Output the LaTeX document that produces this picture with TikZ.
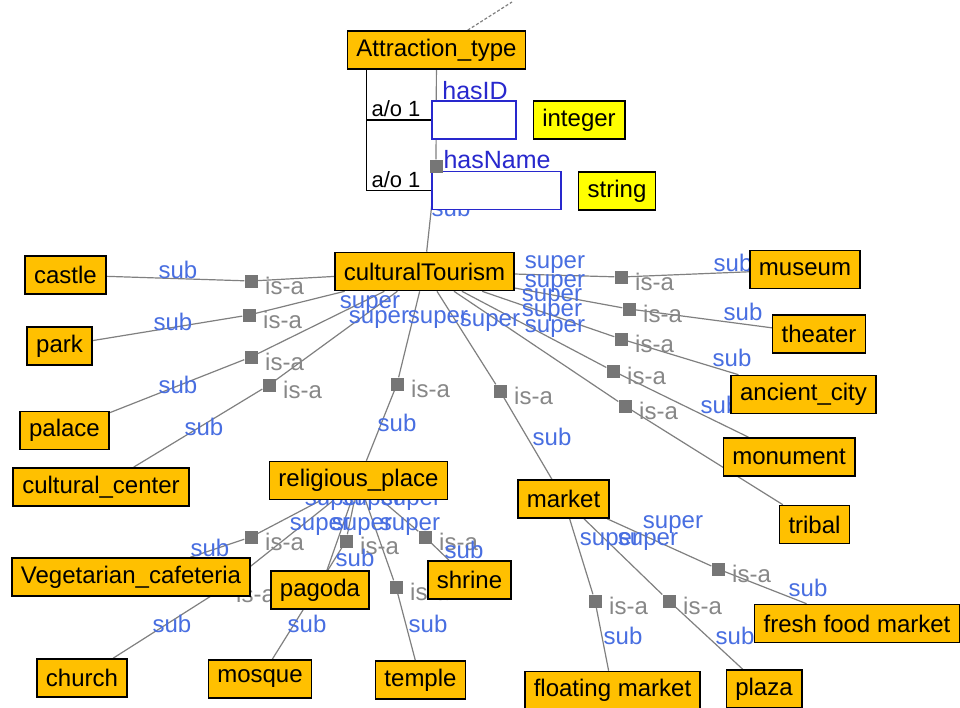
\documentclass[tikz,border=0pt]{standalone}
\usepackage{fontspec}
\setmainfont{Liberation Sans}
\usetikzlibrary{calc}
\definecolor{clsfill}{RGB}{255,192,0}
\definecolor{dtfill}{RGB}{255,255,0}
\definecolor{edgegray}{RGB}{128,128,128}
\definecolor{sqgray}{RGB}{118,118,118}
\definecolor{isagray}{RGB}{135,135,135}
\definecolor{roleblue}{RGB}{72,110,225}
\definecolor{propblue}{RGB}{40,40,205}
\pgfdeclarelayer{bgpaper}
\pgfdeclarelayer{edges}
\pgfsetlayers{bgpaper,edges,main}
\begin{document}
\begin{tikzpicture}[x=1pt,y=-1pt,
  font=\fontsize{24}{28}\selectfont,
  cls/.style={draw=black, line width=1.6pt, fill=clsfill, minimum height=38pt, inner xsep=9pt, inner ysep=0pt, text=black},
  dtype/.style={draw=black, line width=1.6pt, fill=dtfill, minimum height=38pt, inner xsep=9pt, inner ysep=0pt, text=black},
  prop/.style={draw=propblue, line width=1.5pt, fill=white, minimum height=38pt, inner sep=0pt},
  isasq/.style={fill=sqgray, draw=none, minimum size=13pt, inner sep=0pt},
  edge/.style={draw=edgegray, line width=1.2pt},
  isatext/.style={text=isagray, inner sep=2pt, anchor=west},
  role/.style={text=roleblue, inner sep=0pt},
  proptext/.style={text=propblue, inner sep=0pt, font=\fontsize{25}{28}\selectfont},
  card/.style={text=black, inner sep=0pt, font=\fontsize{22}{26}\selectfont},
  bracket/.style={draw=black, line width=1.3pt}]

\begin{pgfonlayer}{bgpaper}
\fill[white] (0,0) rectangle (960,707);
\end{pgfonlayer}
\useasboundingbox (0,0) rectangle (960,707);

% property boxes
\node[prop, minimum width=84pt] (hasid) at (474,120) {};
\node[prop, minimum width=129pt] (hasname) at (496.5,190.5) {};

% is-a squares
\node[isasq] (s0) at (436,166) {};
\node[isasq] (sA) at (251,281) {};
\node[isasq] (sB) at (249,315) {};
\node[isasq] (sC) at (251,357) {};
\node[isasq] (sD) at (269,385) {};
\node[isasq] (sE) at (397,384) {};
\node[isasq] (sF) at (500,391) {};
\node[isasq] (sG) at (621,277) {};
\node[isasq] (sH) at (629,309) {};
\node[isasq] (sI) at (621,339) {};
\node[isasq] (sJ) at (613,371) {};
\node[isasq] (sK) at (625,406) {};
\node[isasq] (sL) at (251,537) {};
\node[isasq] (sM) at (222,589) {};
\node[isasq] (sN) at (346,541) {};
\node[isasq] (sO) at (396,587) {};
\node[isasq] (sP) at (425,537) {};
\node[isasq] (sQ) at (595,601) {};
\node[isasq] (sR) at (669,601) {};
\node[isasq] (sS) at (718,569) {};

% datatype boxes
\node[dtype] (integer) at (579,120) {integer};
\node[dtype] (string) at (617,191) {string};

% class boxes
\node[cls] (attr) at (436.5,50) {Attraction\_type};
\node[cls] (ct) at (424.5,271.5) {culturalTourism};
\node[cls] (castle) at (65.5,275) {castle};
\node[cls] (park) at (59.5,346) {park};
\node[cls] (palace) at (64.5,430.5) {palace};
\node[cls] (cc) at (101,487) {cultural\_center};
\node[cls] (rp) at (358.5,480.5) {religious\_place};
\node[cls] (market) at (563.5,499) {market};
\node[cls] (museum) at (805,269.5) {museum};
\node[cls] (theater) at (819,334) {theater};
\node[cls] (ancient) at (803.5,394.5) {ancient\_city};
\node[cls] (monument) at (789,457) {monument};
\node[cls] (tribal) at (814.5,524.5) {tribal};
\node[cls] (veg) at (131,577) {Vegetarian\_cafeteria};
\node[cls] (pagoda) at (320,590) {pagoda};
\node[cls] (shrine) at (469.5,580) {shrine};
\node[cls] (church) at (82,678) {church};
\node[cls] (mosque) at (260,679) {mosque};
\node[cls] (temple) at (420.5,680) {temple};
\node[cls] (floating) at (612.5,690.5) {floating market};
\node[cls] (plaza) at (764,689) {plaza};
\node[cls] (ffm) at (857,623.5) {fresh food market};

\coordinate (topend) at (512,2);

\begin{pgfonlayer}{edges}
% connectors
\draw[edge, densely dashed] (attr) -- (topend);
\draw[edge] (attr) -- (s0) -- (ct);
\draw[bracket] ([xshift=20pt]attr.south west) |- (hasid.west);
\draw[bracket] ([xshift=20pt]attr.south west) |- (hasname.west);

\draw[edge] (ct) -- (sA) -- (castle);
\draw[edge] (ct) -- (sB) -- (park);
\draw[edge] (ct) -- (sC) -- (palace);
\draw[edge] (ct) -- (sD) -- (cc);
\draw[edge] (ct) -- (sE) -- (rp);
\draw[edge] (ct) -- (sF) -- (market);
\draw[edge] (ct) -- (sG) -- (museum);
\draw[edge] (ct) -- (sH) -- (theater);
\draw[edge] (ct) -- (sI) -- (ancient);
\draw[edge] (ct) -- (sJ) -- (monument);
\draw[edge] (ct) -- (sK) -- (tribal);

\draw[edge] (rp) -- (sL) -- (veg);
\draw[edge] (rp) -- (sM) -- (church);
\draw[edge] (rp) -- (pagoda);
\draw[edge] (rp) -- (sN) -- (mosque);
\draw[edge] (rp) -- (sO) -- (temple);
\draw[edge] (rp) -- (sP) -- (shrine);

\draw[edge] (market) -- (sQ) -- (floating);
\draw[edge] (market) -- (sR) -- (plaza);
\draw[edge] (market) -- (sS) -- (ffm);

% property and cardinality labels
\node[proptext] (lhasid) at (475,91) {hasID};
\node[proptext] (lhasname) at (497,160) {hasName};
\node[card] (card1) at (396,109) {a/o 1};
\node[card] (card2) at (396,180) {a/o 1};

% is-a labels
\foreach \s in {A,B,C,D,E,F,G,H,I,J,K,L,M,N,O,P,Q,R,S}
  \node[isatext] (t\s) at ($(s\s)+(12,5)$) {is-a};

% sub labels
\node[role] (u0) at (451,208) {sub};
\node[role] (uA) at (178,270) {sub};
\node[role] (uB) at (173,322) {sub};
\node[role] (uC) at (178,385) {sub};
\node[role] (uD) at (204,427) {sub};
\node[role] (uE) at (397,423) {sub};
\node[role] (uF) at (552,437) {sub};
\node[role] (uG) at (733,263) {sub};
\node[role] (uH) at (743,312) {sub};
\node[role] (uI) at (732,358) {sub};
\node[role] (uJ) at (720,405) {sub};
\node[role] (uL) at (210,548) {sub};
\node[role] (uM) at (172,624) {sub};
\node[role] (uN) at (307,624) {sub};
\node[role] (uPg) at (355,558) {sub};
\node[role] (uO) at (428,624) {sub};
\node[role] (uP) at (464,550) {sub};
\node[role] (uQ) at (623,636) {sub};
\node[role] (uR) at (735,636) {sub};
\node[role] (uS) at (808,588) {sub};

% super labels
\node[role] (p1) at (370,305) {super};
\node[role] (p2) at (379,320) {super};
\node[role] (p3) at (438,320) {super};
\node[role] (p4) at (490,323) {super};
\node[role] (p5) at (555,265) {super};
\node[role] (p6) at (555,284) {super};
\node[role] (p7) at (552,298) {super};
\node[role] (p8) at (552,313) {super};
\node[role] (p9) at (555,329) {super};
\node[role] (q1) at (335,502) {super};
\node[role] (q2) at (372,502) {super};
\node[role] (q3) at (411,502) {super};
\node[role] (q4) at (320,527) {super};
\node[role] (q5) at (362,527) {super};
\node[role] (q6) at (410,527) {super};
\node[role] (m1) at (673,525) {super};
\node[role] (m2) at (610,542) {super};
\node[role] (m3) at (648,542) {super};
\end{pgfonlayer}
\end{tikzpicture}
\end{document}
